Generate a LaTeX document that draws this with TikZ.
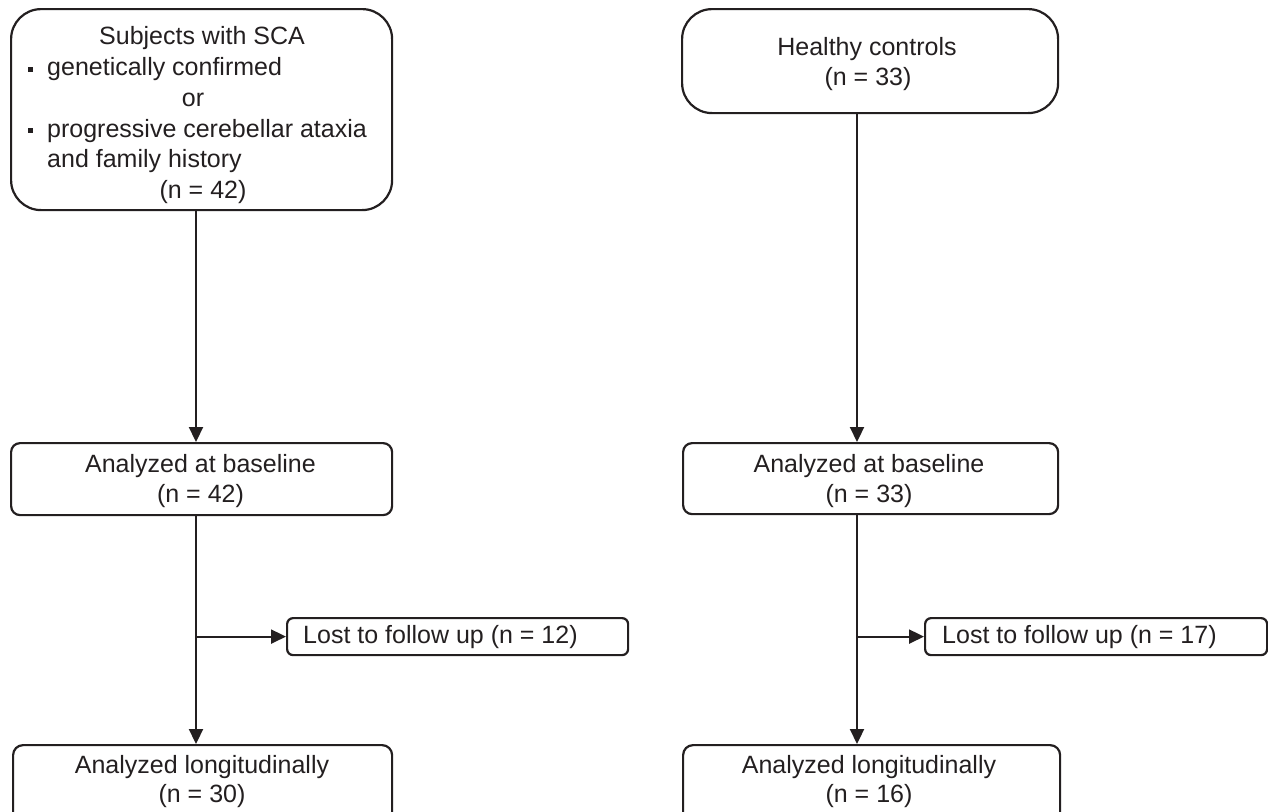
\documentclass[tikz,border=0pt]{standalone}
\usepackage{fontspec}
\setmainfont{Liberation Sans}
\usetikzlibrary{arrows.meta}
\definecolor{ink}{HTML}{231F20}
\begin{document}
\begin{tikzpicture}[x=1pt,y=-1pt,
  box/.style={draw=ink, line width=2.2pt, rectangle, inner sep=0pt, anchor=north west},
  txt/.style={inner sep=0pt, anchor=base, text=ink, font=\fontsize{25}{30}\selectfont},
  txtl/.style={txt, anchor=base west},
  link/.style={draw=ink, line width=2.2pt, -{Triangle[length=15pt,width=14pt]}},
  bul/.style={fill=ink, inner sep=0pt, minimum size=5pt, rectangle}
]
\useasboundingbox (0,0) rectangle (1268,811);

% boxes
\node[box, rounded corners=30pt, minimum width=381pt, minimum height=201pt] (sca) at (10,8) {};
\node[box, rounded corners=30pt, minimum width=376pt, minimum height=104pt] (hc) at (681,8) {};
\node[box, rounded corners=9pt, minimum width=381pt, minimum height=72pt] (bl) at (10,442) {};
\node[box, rounded corners=9pt, minimum width=375pt, minimum height=71pt] (br) at (682,442) {};
\node[box, rounded corners=6pt, minimum width=341pt, minimum height=37pt] (ll) at (286,617) {};
\node[box, rounded corners=6pt, minimum width=342pt, minimum height=37pt] (lr) at (924,617) {};
\node[box, rounded corners=10pt, minimum width=379pt, minimum height=80pt] (al) at (12,744) {};
\node[box, rounded corners=10pt, minimum width=377pt, minimum height=80pt] (ar) at (682,744) {};

% texts
\node[txt] (t1) at (202,44) {Subjects with SCA};
\node[bul] (b1) at (30.5,69.5) {};
\node[txtl] (t2) at (47,75) {genetically confirmed};
\node[txt] (t3) at (193,106) {or};
\node[bul] (b2) at (30.5,130.5) {};
\node[txtl] (t4) at (47,137) {progressive cerebellar ataxia};
\node[txtl] (t5) at (47,167) {and family history};
\node[txt] (t6) at (203,198) {(n = 42)};

\node[txt] (h1) at (867,55) {Healthy controls};
\node[txt] (h2) at (868,85) {(n = 33)};

\node[txt] (bl1) at (200.5,472) {Analyzed at baseline};
\node[txt] (bl2) at (200.5,502) {(n = 42)};
\node[txt] (br1) at (869,472) {Analyzed at baseline};
\node[txt] (br2) at (869,502) {(n = 33)};

\node[txtl] (ll1) at (303,643) {Lost to follow up (n = 12)};
\node[txtl] (lr1) at (942,643) {Lost to follow up (n = 17)};

\node[txt] (al1) at (202,773) {Analyzed longitudinally};
\node[txt] (al2) at (202,802) {(n = 30)};
\node[txt] (ar1) at (869,773) {Analyzed longitudinally};
\node[txt] (ar2) at (869,802) {(n = 16)};

% connector columns
\coordinate (cl) at (196,0);
\coordinate (cr) at (857,0);
\coordinate (jl) at (cl |- ll.west);
\coordinate (jr) at (cr |- lr.west);

\draw[link] (sca.south -| cl) -- (bl.north -| cl);
\draw[link] (hc.south -| cr) -- (br.north -| cr);
\draw[link] (bl.south -| cl) -- (al.north -| cl);
\draw[link] (br.south -| cr) -- (ar.north -| cr);
\draw[link] (jl) -- (ll.west);
\draw[link] (jr) -- (lr.west);
\end{tikzpicture}
\end{document}
